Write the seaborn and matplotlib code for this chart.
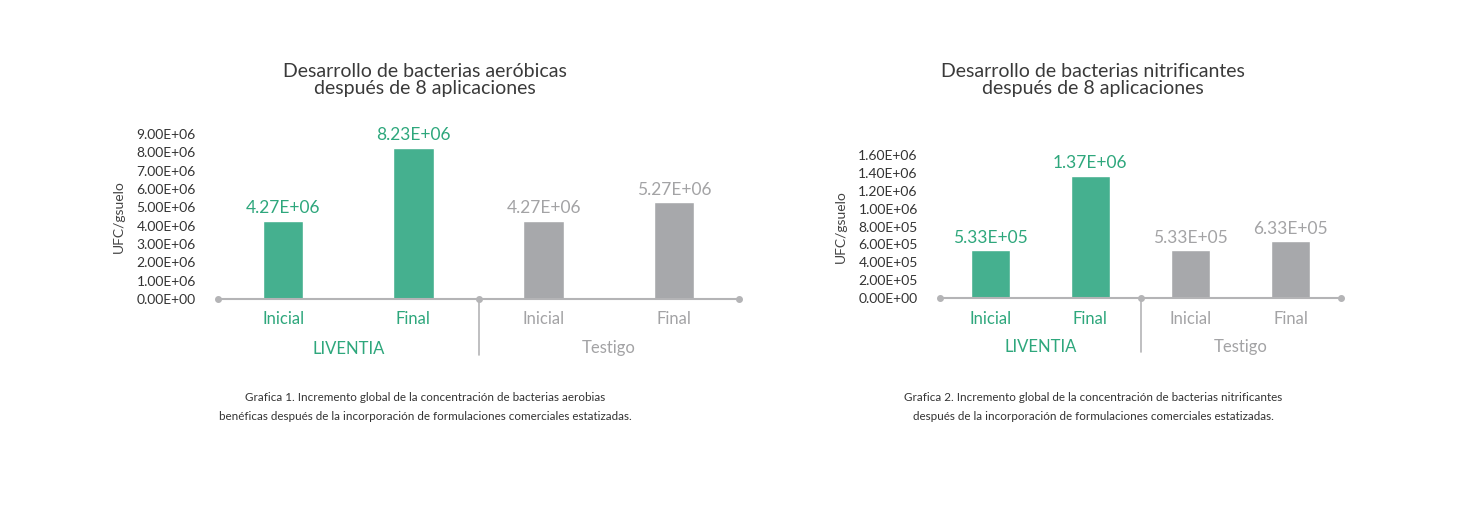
import numpy as np
import pandas as pd
import matplotlib
matplotlib.use('Agg')
import matplotlib.pyplot as plt
import seaborn as sns

# Data
categorias = ['Inicial', 'Final', 'Inicial', 'Final']
grupos = ['LIVENTIA', 'LIVENTIA', 'Testigo', 'Testigo']
aerobicas = [4.27e6, 8.23e6, 4.27e6, 5.27e6]
nitrificantes = [5.33e5, 1.37e6, 5.33e5, 6.33e5]
ticks_aerobicas = np.arange(0, 9.01e6, 1e6)
ticks_nitrificantes = np.arange(0, 1.61e6, 2e5)

titulo1 = 'Desarrollo de bacterias aeróbicas\ndespués de 8 aplicaciones'
titulo2 = 'Desarrollo de bacterias nitrificantes\ndespués de 8 aplicaciones'
pie1 = ('Grafica 1. Incremento global de la concentración de bacterias aerobias\n'
        'benéficas después de la incorporación de formulaciones comerciales estatizadas.')
pie2 = ('Grafica 2. Incremento global de la concentración de bacterias nitrificantes\n'
        'después de la incorporación de formulaciones comerciales estatizadas.')

verde = '#45b08f'
verde_txt = '#2ea77c'
gris = '#a7a8ab'
gris_txt = '#a3a3a5'
linea = '#b4b4b6'
colores = {'LIVENTIA': verde, 'Testigo': gris}
colores_txt = {'LIVENTIA': verde_txt, 'Testigo': gris_txt}

sns.set_theme(style='white')
plt.rcParams['font.family'] = ['Lato', 'DejaVu Sans']

W, H = 1458, 519
fig = plt.figure(figsize=(W / 100, H / 100), dpi=100)


def panel(x0, x1, y0, ytop, valores, ticks, titulo, pie, tx, sep, ancho):
    # axes placed in pixel coordinates of the reference
    ax = fig.add_axes([x0 / W, (H - y0) / H, (x1 - x0) / W, (y0 - ytop) / H])
    df = pd.DataFrame({'pos': range(4), 'valor': valores, 'grupo': grupos})
    sns.barplot(data=df, x='pos', y='valor', hue='grupo', palette=colores,
                dodge=False, width=ancho, legend=False, ax=ax, saturation=1)
    ax.set_xlim(-0.5, 3.5)
    ax.set_ylim(0, ticks[-1])
    ax.set_yticks(ticks)
    ax.set_yticklabels([f'{t:.2E}' for t in ticks], fontsize=10, color='#333333')
    ax.tick_params(axis='y', length=0, pad=16)
    ax.set_ylabel('UFC/gsuelo', fontsize=10, color='#444444', labelpad=8)
    ax.set_xlabel('')
    ax.set_xticks(range(4))
    ax.set_xticklabels(categorias, fontsize=12)
    ax.tick_params(axis='x', length=0, pad=9)
    for lab, g in zip(ax.get_xticklabels(), grupos):
        lab.set_color(colores_txt[g])
    for s in ax.spines.values():
        s.set_visible(False)

    # baseline with dots and group separator
    ax.plot([-0.5, 3.5], [0, 0], color=linea, lw=1.5, clip_on=False, zorder=3)
    ax.plot([-0.5, 1.5, 3.5], [0, 0, 0], 'o', color=linea, ms=4, clip_on=False, zorder=3)
    trans = ax.get_xaxis_transform()
    ax.plot([1.5, 1.5], [0, sep], color=linea, lw=1.2, transform=trans, clip_on=False)
    ax.text(0.5, sep + 0.04, 'LIVENTIA', transform=trans, ha='center', va='center',
            fontsize=12, color=verde_txt)
    ax.text(2.5, sep + 0.04, 'Testigo', transform=trans, ha='center', va='center',
            fontsize=12, color=gris_txt)

    # value labels
    for bar, v, g in zip(ax.patches, valores, grupos):
        ax.annotate(f'{v:.2E}', (bar.get_x() + bar.get_width() / 2, v),
                    xytext=(0, 3.5), textcoords='offset points', ha='center', va='bottom',
                    fontsize=12.5, color=colores_txt[g], annotation_clip=False)

    fig.text(tx / W, 1 - 80 / H, titulo, ha='center', va='center', fontsize=14,
             color='#3a3a3a', linespacing=1.05)
    fig.text(tx / W, 1 - 407 / H, pie, ha='center', va='center', fontsize=8.4,
             color='#333333', linespacing=1.85)
    return ax


panel(218, 739, 299, 134, aerobicas, ticks_aerobicas, titulo1, pie1, 425, -0.34, 0.31)
panel(940, 1341, 298, 155, nitrificantes, ticks_nitrificantes, titulo2, pie2, 1093, -0.38, 0.39)

fig.savefig('out.png', dpi=100, facecolor='white')
